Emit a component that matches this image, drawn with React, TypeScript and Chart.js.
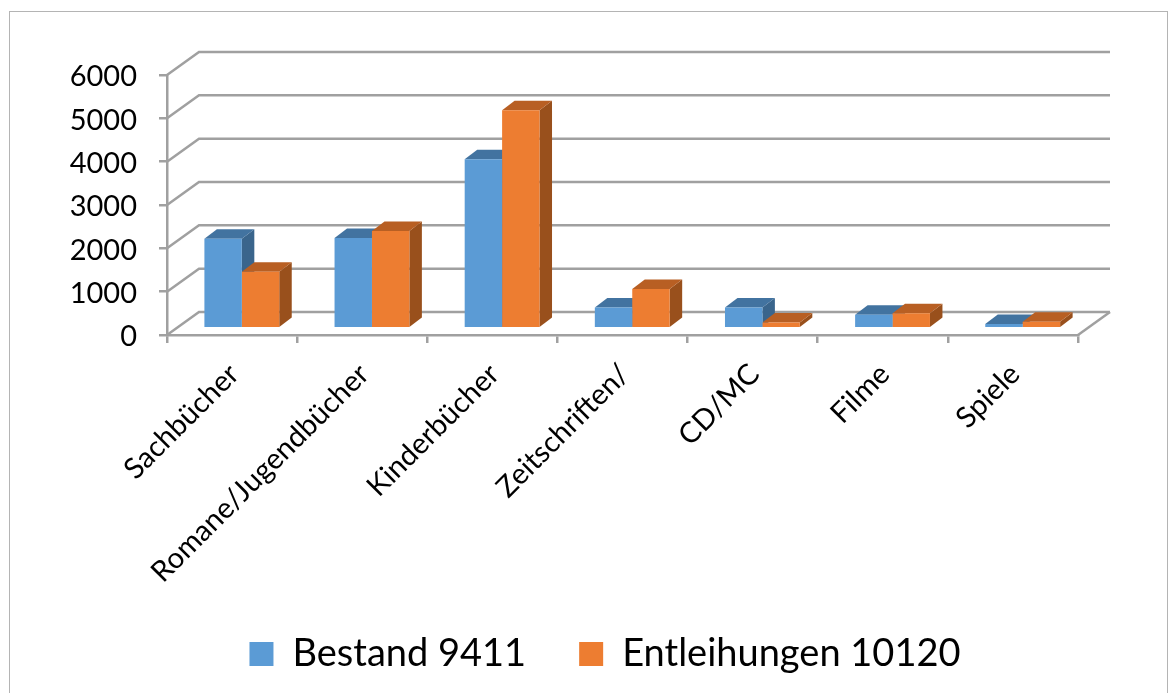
import React, { useEffect, useRef } from "react";
import { Chart, registerables } from "chart.js";

Chart.register(...registerables);

const categories = ["Sachbücher", "Romane/Jugendbücher", "Kinderbücher", "Zeitschriften/", "CD/MC", "Filme", "Spiele"];
const bestand = [2067, 2083, 3900, 477, 477, 310, 100];
const entleihungen = [1303, 2245, 5030, 903, 130, 347, 150];
const seriesNames = ["Bestand 9411", "Entleihungen 10120"];
const frontColors = ["#5B9BD5", "#ED7D31"];
const sideColors = ["#3A658C", "#99501C"];
const topColors = ["#4273A0", "#B85F23"];

const GRID = "#A0A0A0";
const GRID_W = 2.5;
const FONT = "Lato, Carlito, sans-serif";
const WALL_DX = 32;
const WALL_DY = -23;
const BAR_DX = 12.5;
const BAR_DY = -9.5;
const SHIFT_X = 9.75;
const SHIFT_Y = -6.75;

const poly = (ctx: CanvasRenderingContext2D, pts: number[][], fill: string) => {
  ctx.beginPath();
  pts.forEach(([x, y], i) => (i ? ctx.lineTo(x, y) : ctx.moveTo(x, y)));
  ctx.closePath();
  ctx.fillStyle = fill;
  ctx.fill();
};

const frame3d = {
  id: "frame3d",
  beforeDraw(chart: any) {
    const { ctx } = chart;
    ctx.save();
    ctx.fillStyle = "#fff";
    ctx.fillRect(0, 0, chart.width, chart.height);
    ctx.strokeStyle = "#B4B4B4";
    ctx.lineWidth = 1;
    ctx.strokeRect(9.5, 11.5, 1158, 720);
    ctx.restore();
  },
  beforeDatasetsDraw(chart: any) {
    const { ctx, chartArea: a, scales } = chart;
    ctx.save();
    ctx.strokeStyle = GRID;
    ctx.lineWidth = GRID_W;
    scales.y.ticks.forEach((t: any) => {
      const y = scales.y.getPixelForValue(t.value);
      ctx.beginPath();
      ctx.moveTo(a.left, y);
      ctx.lineTo(a.left + WALL_DX, y + WALL_DY);
      ctx.lineTo(a.right + WALL_DX, y + WALL_DY);
      ctx.stroke();
    });
    ctx.beginPath();
    ctx.moveTo(a.right, a.bottom);
    ctx.lineTo(a.right + WALL_DX, a.bottom + WALL_DY);
    ctx.stroke();
    ctx.restore();
    // side and top faces, first series first, so the second series' top covers the first one's side
    ctx.save();
    ctx.translate(SHIFT_X, SHIFT_Y);
    chart.data.datasets.forEach((_: any, i: number) => {
      chart.getDatasetMeta(i).data.forEach((el: any) => {
        const l = el.x - el.width / 2;
        const r = el.x + el.width / 2;
        const t = el.y;
        const b = el.base;
        poly(ctx, [[r, t], [r + BAR_DX, t + BAR_DY], [r + BAR_DX, b + BAR_DY], [r, b]], sideColors[i]);
        poly(ctx, [[l, t], [l + BAR_DX, t + BAR_DY], [r + BAR_DX, t + BAR_DY], [r, t]], topColors[i]);
      });
    });
    ctx.restore();
  },
  beforeDatasetDraw(chart: any) {
    chart.ctx.save();
    chart.ctx.translate(SHIFT_X, SHIFT_Y);
  },
  afterDatasetDraw(chart: any) {
    chart.ctx.restore();
  },
  afterLayout(chart: any) {
    const lg = chart.legend;
    const h = lg.bottom - lg.top;
    lg.left += 66;
    lg.right += 66;
    lg.top = 582;
    lg.bottom = lg.top + h;
    chart.scales.x.bottom = 630;
  },
};

export default function App() {
  const ref = useRef<HTMLCanvasElement>(null);
  useEffect(() => {
    const chart = new Chart(ref.current!, {
      type: "bar",
      data: {
        labels: categories,
        datasets: [
          { label: seriesNames[0], data: bestand, backgroundColor: frontColors[0], clip: false },
          { label: seriesNames[1], data: entleihungen, backgroundColor: frontColors[1], clip: false },
        ],
      } as any,
      options: {
        animation: false,
        responsive: false,
        devicePixelRatio: 1,
        layout: { padding: { left: 0, right: 98, top: 75, bottom: 0 } },
        datasets: { bar: { categoryPercentage: 0.575, barPercentage: 1 } },
        plugins: {
          tooltip: { enabled: false },
          legend: {
            position: "bottom",
            labels: {
              boxWidth: 24,
              boxHeight: 24,
              padding: 53,
              color: "#000",
              font: { family: FONT, size: 38 },
            },
          },
        },
        scales: {
          x: {
            afterFit: (s: any) => { s.height = 257; },
            grid: { drawOnChartArea: false, color: GRID, lineWidth: GRID_W, tickLength: 8 },
            border: { color: GRID, width: GRID_W },
            ticks: {
              autoSkip: false,
              minRotation: 45,
              maxRotation: 45,
              color: "#000",
              padding: 14,
              labelOffset: 2,
              font: { family: FONT, size: 29 },
            },
          },
          y: {
            min: 0,
            max: 6000,
            afterFit: (s: any) => { s.width = 167; },
            grid: { drawOnChartArea: false, color: GRID, lineWidth: GRID_W, tickLength: 8 },
            border: { color: GRID, width: GRID_W },
            ticks: {
              stepSize: 1000,
              color: "#000",
              padding: 22,
              labelOffset: 2,
              callback: (v: any) => String(v),
              font: { family: FONT, size: 29 },
            },
          },
        },
      },
      plugins: [frame3d],
    } as any);
    return () => chart.destroy();
  }, []);
  return (
    <div style={{ position: "absolute", left: 0, top: 0, width: 1176, height: 693, overflow: "hidden", background: "#fff" }}>
      <canvas ref={ref} width={1176} height={693} style={{ display: "block" }} />
    </div>
  );
}
